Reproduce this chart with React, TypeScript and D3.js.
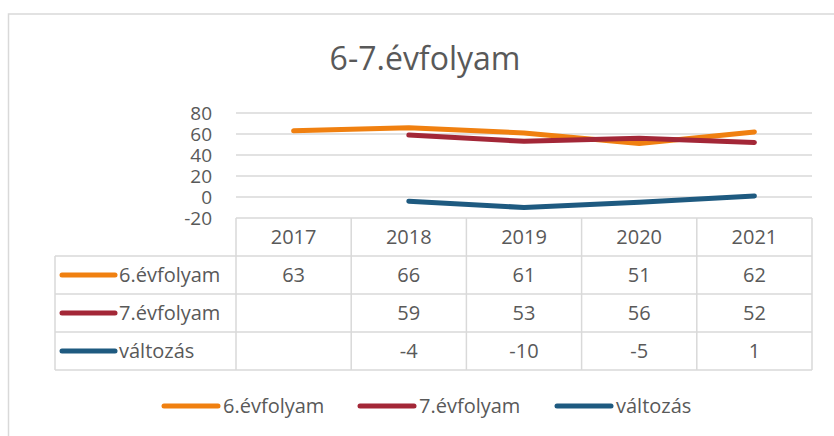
import React from "react";
import * as d3 from "d3";

const years = ["2017", "2018", "2019", "2020", "2021"];
const seriesNames = ["6.évfolyam", "7.évfolyam", "változás"];
const grade6 = [63, 66, 61, 51, 62];
const grade7 = [null, 59, 53, 56, 52];
const change = [null, -4, -10, -5, 1];
const seriesColors = ["#F08010", "#A32737", "#1E5A80"];
const yTicks = [80, 60, 40, 20, 0, -20];

const FONT = "'Open Sans', Lato, sans-serif";
const TEXT = "#595959";
const GRID = "#D9D9D9";

const App: React.FC = () => {
  const width = 834;
  const height = 436;
  const plot = { left: 236, right: 812, top: 113, bottom: 218 };
  const tableLeft = 55;
  const headerBottom = 256;
  const rowH = 38;

  const x = d3.scaleBand<string>().domain(years).range([plot.left, plot.right]);
  const y = d3.scaleLinear().domain([-20, 80]).range([plot.bottom, plot.top]);

  const allSeries = [grade6, grade7, change];
  const line = d3
    .line<number | null>()
    .defined((d) => d !== null)
    .x((_, i) => x(years[i])! + x.bandwidth() / 2)
    .y((d) => y(d as number));

  const rowY = (i: number) => headerBottom + i * rowH;

  // bottom legend positions
  const legendX = [164, 360, 557];

  return (
    <svg
      width={width}
      height={height}
      style={{ position: "absolute", left: 0, top: 0, background: "#fff" }}
      fontFamily={FONT}
    >
      {/* chart frame */}
      <rect x={8.5} y={14} width={900} height={500} fill="#fff" stroke={GRID} strokeWidth={1.5} />

      <text x={425} y={70} textAnchor="middle" fontSize={32} fill={TEXT}>
        6-7.évfolyam
      </text>

      {/* gridlines + y labels */}
      {yTicks.map((t) => (
        <g key={t}>
          {t !== -20 && (
            <line x1={plot.left} x2={plot.right} y1={y(t)} y2={y(t)} stroke={GRID} strokeWidth={1.5} />
          )}
          <text x={212} y={y(t)} dy="0.36em" textAnchor="end" fontSize={19} fill={TEXT}>
            {t}
          </text>
        </g>
      ))}

      {/* data table */}
      <g stroke={GRID} strokeWidth={1.5} fill="none">
        <line x1={plot.left} x2={plot.right} y1={plot.bottom} y2={plot.bottom} />
        {years.map((yr) => (
          <line key={yr} x1={x(yr)} x2={x(yr)} y1={plot.bottom} y2={rowY(3)} />
        ))}
        <line x1={plot.right} x2={plot.right} y1={plot.bottom} y2={rowY(3)} />
        <line x1={tableLeft} x2={tableLeft} y1={headerBottom} y2={rowY(3)} />
        {[0, 1, 2, 3].map((i) => (
          <line key={i} x1={tableLeft} x2={plot.right} y1={rowY(i)} y2={rowY(i)} />
        ))}
      </g>

      {years.map((yr) => (
        <text
          key={yr}
          x={x(yr)! + x.bandwidth() / 2}
          y={(plot.bottom + headerBottom) / 2}
          dy="0.36em"
          textAnchor="middle"
          fontSize={20}
          fill={TEXT}
        >
          {yr}
        </text>
      ))}

      {allSeries.map((s, si) => (
        <g key={si}>
          <line
            x1={62}
            x2={115}
            y1={rowY(si) + rowH / 2}
            y2={rowY(si) + rowH / 2}
            stroke={seriesColors[si]}
            strokeWidth={5}
            strokeLinecap="round"
          />
          <text x={119} y={rowY(si) + rowH / 2} dy="0.36em" fontSize={20} fill={TEXT}>
            {seriesNames[si]}
          </text>
          {s.map((v, i) =>
            v === null ? null : (
              <text
                key={i}
                x={x(years[i])! + x.bandwidth() / 2}
                y={rowY(si) + rowH / 2}
                dy="0.36em"
                textAnchor="middle"
                fontSize={20}
                fill={TEXT}
              >
                {v}
              </text>
            )
          )}
        </g>
      ))}

      {/* series lines */}
      {allSeries.map((s, si) => (
        <path
          key={si}
          d={line(s) || ""}
          fill="none"
          stroke={seriesColors[si]}
          strokeWidth={5}
          strokeLinecap="round"
          strokeLinejoin="round"
        />
      ))}

      {/* legend */}
      {seriesNames.map((n, i) => (
        <g key={n}>
          <line
            x1={legendX[i]}
            x2={legendX[i] + 54}
            y1={406}
            y2={406}
            stroke={seriesColors[i]}
            strokeWidth={5}
            strokeLinecap="round"
          />
          <text x={legendX[i] + 59} y={406} dy="0.36em" fontSize={20} fill={TEXT}>
            {n}
          </text>
        </g>
      ))}
    </svg>
  );
};

export default App;
